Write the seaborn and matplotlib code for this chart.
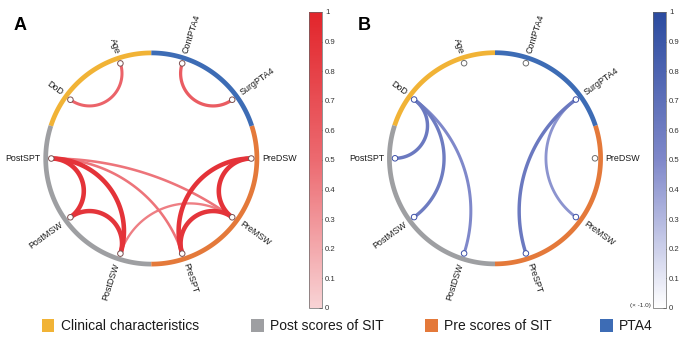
import numpy as np
import matplotlib
matplotlib.use('Agg')
import matplotlib.pyplot as plt
import seaborn as sns
import pandas as pd
from matplotlib.patches import Rectangle
from matplotlib.colors import Normalize
from matplotlib.cm import ScalarMappable

# ---------------- data ----------------
node_labels = ['PreDSW', 'SurgPTA4', 'ContPTA4', 'Age', 'DoD',
               'PostSPT', 'PostMSW', 'PostDSW', 'PreSPT', 'PreMSW']
group_names = ['Clinical characteristics', 'Post scores of SIT', 'Pre scores of SIT', 'PTA4']
group_colors = ['#F1B336', '#9E9FA2', '#E4793A', '#3D6CB5']

a_src = ['Age', 'ContPTA4', 'PostSPT', 'PostSPT', 'PostMSW', 'PreDSW', 'PreDSW', 'PreMSW',
         'PostSPT', 'PostSPT', 'PostDSW']
a_dst = ['DoD', 'SurgPTA4', 'PostMSW', 'PostDSW', 'PostDSW', 'PreMSW', 'PreSPT', 'PreSPT',
         'PreMSW', 'PreSPT', 'PreMSW']
a_w = [0.55, 0.6, 0.9, 0.9, 0.88, 0.9, 0.9, 0.88, 0.45, 0.45, 0.4]

b_src = ['DoD', 'DoD', 'DoD', 'SurgPTA4', 'SurgPTA4']
b_dst = ['PostSPT', 'PostMSW', 'PostDSW', 'PreSPT', 'PreMSW']
b_w = [0.62, 0.6, 0.5, 0.62, 0.45]

cbar_ticks = [0, 0.1, 0.2, 0.3, 0.4, 0.5, 0.6, 0.7, 0.8, 0.9, 1]
cbar_ticklabels = ['0', '0.1', '0.2', '0.3', '0.4', '0.5', '0.6', '0.7', '0.8', '0.9', '1']

# ---------------- style ----------------
sns.set_theme(style='white')
plt.rcParams['font.family'] = ['Liberation Sans', 'DejaVu Sans']

W, H = 684, 338
fig = plt.figure(figsize=(W / 100, H / 100), dpi=100)

# group arcs (degrees) on the ring
group_spans = [(90, 162), (162, 270), (270, 378), (18, 90)]
node_angles = np.deg2rad(np.arange(len(node_labels)) * 36.0)
angle_of = dict(zip(node_labels, node_angles))

cmap_red = sns.blend_palette(['#F8D3D5', '#EC6A70', '#E2252B'], as_cmap=True)
cmap_blue = sns.blend_palette(['#FFFFFF', '#7F88CA', '#2B4B9F'], as_cmap=True)


def geodesic(t1, t2, n=120):
    u = np.array([np.cos(t1), np.sin(t1)])
    v = np.array([np.cos(t2), np.sin(t2)])
    den = u[0] * v[1] - u[1] * v[0]
    if abs(den) < 1e-9:
        s = np.linspace(0, 1, n)
        return u[0] + (v[0] - u[0]) * s, u[1] + (v[1] - u[1]) * s
    x0 = (v[1] - u[1]) / den
    y0 = (u[0] - v[0]) / den
    r = np.sqrt(x0 ** 2 + y0 ** 2 - 1)
    p1 = np.arctan2(u[1] - y0, u[0] - x0)
    p2 = np.arctan2(v[1] - y0, v[0] - x0)
    d = (p2 - p1 + np.pi) % (2 * np.pi) - np.pi
    th = p1 + np.linspace(0, 1, n) * d
    return x0 + r * np.cos(th), y0 + r * np.sin(th)


def make_axes(cx, cy, R=100):
    half = 1.5 * R
    ax = fig.add_axes([(cx - half) / W, (H - cy - half) / H, 2 * half / W, 2 * half / H])
    ax.set_xlim(-1.5, 1.5)
    ax.set_ylim(-1.5, 1.5)
    ax.axis('off')
    return ax


def draw_panel(ax, src, dst, w, cmap, node_edge_on, letter, lw0, lw1):
    for (a0, a1), col in zip(group_spans, group_colors):
        t = np.deg2rad(np.linspace(a0, a1, 100))
        ax.plot(1.056 * np.cos(t), 1.056 * np.sin(t), color=col, lw=3.4,
                solid_capstyle='butt', zorder=2)
    order = np.argsort(w)
    for k in order:
        x, y = geodesic(angle_of[src[k]], angle_of[dst[k]])
        ax.plot(x, y, color=cmap(w[k]), lw=(lw0 + lw1 * w[k]) * 0.72,
                solid_capstyle='round', zorder=3)
    connected = set(src) | set(dst)
    df = pd.DataFrame({'x': np.cos(node_angles), 'y': np.sin(node_angles),
                       'label': node_labels})
    ec = [node_edge_on if l in connected else '#6E6E6E' for l in node_labels]
    sns.scatterplot(data=df, x='x', y='y', ax=ax, s=16, color='white',
                    edgecolor=ec, linewidth=0.7, zorder=5, legend=False)
    ax.set_xlabel('')
    ax.set_ylabel('')
    for lab, t in zip(node_labels, node_angles):
        deg = np.rad2deg(t)
        x, y = 1.105 * np.cos(t), 1.105 * np.sin(t)
        if 90 < deg < 270:
            rot, ha = deg - 180, 'right'
        else:
            rot = deg if deg <= 90 else deg - 360
            ha = 'left'
        ax.text(x, y, lab, rotation=rot, ha=ha, va='center', rotation_mode='anchor',
                fontsize=6.4, color='#1a1a1a')
    ax.text(-1.31, 1.33, letter, fontsize=13, fontweight='bold', ha='center',
            va='center', color='black')


axA = make_axes(151.3, 158.5)
draw_panel(axA, a_src, a_dst, a_w, cmap_red, '#7A5050', 'A', 0.6, 4.4)
axB = make_axes(495, 158.3)
draw_panel(axB, b_src, b_dst, b_w, cmap_blue, '#3C4FA6', 'B', 1.2, 3.6)


def colorbar(x0, cmap):
    cax = fig.add_axes([x0 / W, (H - 308) / H, 12.5 / W, 296 / H])
    sm = ScalarMappable(norm=Normalize(0, 1), cmap=cmap)
    cb = fig.colorbar(sm, cax=cax)
    cb.set_ticks(cbar_ticks)
    cb.set_ticklabels(cbar_ticklabels)
    cb.outline.set_linewidth(0.5)
    cb.outline.set_edgecolor('#666666')
    cax.tick_params(axis='y', direction='in', length=2, width=0.5, pad=2.5,
                    labelsize=5.6, colors='#333333', right=True)
    return cax


colorbar(309, cmap_red)
colorbar(653, cmap_blue)
fig.text(651 / W, (H - 306) / H, '(× -1.0)', fontsize=4.6, ha='right', va='center',
         color='#333333')

# legend (manual placement)
sq_left = [42, 251, 425, 600]
for xl, c, name in zip(sq_left, group_colors, group_names):
    fig.add_artist(Rectangle((xl / W, (H - 331.5) / H), 12.5 / W, 12.5 / H,
                             transform=fig.transFigure, facecolor=c, edgecolor='none'))
    fig.text((xl + 19) / W, (H - 325.5) / H, name, fontsize=10, ha='left',
             va='center', color='#1a1a1a')

fig.savefig('out.png', dpi=100)
